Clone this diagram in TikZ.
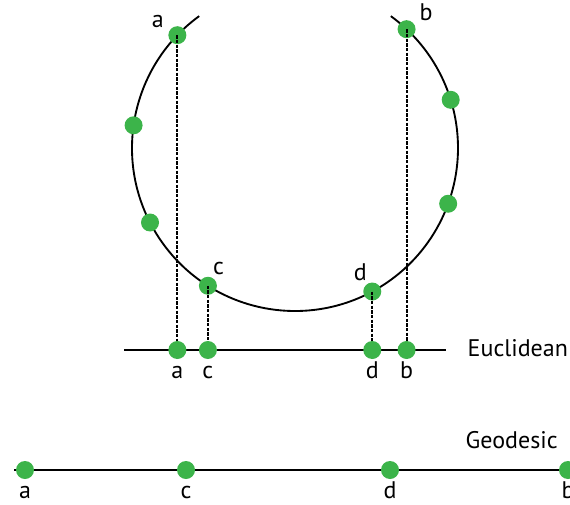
\documentclass[tikz,border=0pt]{standalone}
\usepackage{fontspec}
\setmainfont{PT Sans}
\usetikzlibrary{calc, positioning}
\definecolor{dotgreen}{RGB}{60,180,74}

\begin{document}
\begin{tikzpicture}[x=0.75pt, y=0.75pt,
    dot/.style={circle, fill=dotgreen, inner sep=0pt, minimum size=13.5pt},
    lett/.style={font=\fontsize{18}{21}\selectfont, text height=12pt, text depth=0pt, inner sep=1pt},
    linename/.style={font=\fontsize{18}{21}\selectfont, anchor=west},
    proj/.style={dash pattern=on 2.5pt off 1pt, line width=1.5pt}]
\useasboundingbox (0,0) rectangle (570,504);

% Circle
\coordinate (ctr) at (295,356);
\draw[line width=1.4pt] ($(ctr)+(126:163)$) arc[start angle=126, end angle=414, radius=163];

% Euclidean line
\coordinate (el) at (124,154);
\coordinate (er) at (446,154);
\draw[line width=1.4pt] (el) -- (er);
\node[linename] (euc) at (463,156) {Euclidean};

% Geodesic line
\coordinate (gl) at (14,34);
\coordinate (gr) at (580,34);
\draw[line width=1.4pt] (gl) -- (gr);
\node[linename] (geo) at (461,64) {Geodesic};

% Points on the circle
\node[dot, label={[lett, label distance=3pt]155:a}] (ca) at ($(ctr)+(136.2:163)$) {};
\node[dot] (c2) at ($(ctr)+(172:163)$) {};
\node[dot] (c3) at ($(ctr)+(207.2:163)$) {};
\node[dot, label={[lett, label distance=1pt]70:c}] (cc) at ($(ctr)+(237.7:163)$) {};
\node[dot, label={[lett, label distance=1pt]112:d}] (cd) at ($(ctr)+(298.3:163)$) {};
\node[dot] (c6) at ($(ctr)+(340:163)$) {};
\node[dot] (c7) at ($(ctr)+(17.2:163)$) {};
\node[dot, label={[lett, label distance=3pt]30:b}] (cb) at ($(ctr)+(46.8:163)$) {};

% Euclidean projection
\node[dot, label={[lett, label distance=1pt]below:a}] (ea) at (ca |- el) {};
\node[dot, label={[lett, label distance=1pt]below:c}] (ec) at (cc |- el) {};
\node[dot, label={[lett, label distance=1pt]below:d}] (ed) at (cd |- el) {};
\node[dot, label={[lett, label distance=1pt]below:b}] (eb) at (cb |- el) {};

\foreach \p in {a,c,d,b}
  \draw[proj] (c\p.center) -- (e\p.north);

% Geodesic distances
\node[dot, label={[lett, label distance=1pt]below:a}] (ga) at (25,34) {};
\node[dot, label={[lett, label distance=1pt]below:c}] (gc) at (186,34) {};
\node[dot, label={[lett, label distance=1pt]below:d}] (gd) at (390,34) {};
\node[dot, label={[lett, label distance=1pt]below:b}] (gb) at (568,34) {};
\end{tikzpicture}
\end{document}
